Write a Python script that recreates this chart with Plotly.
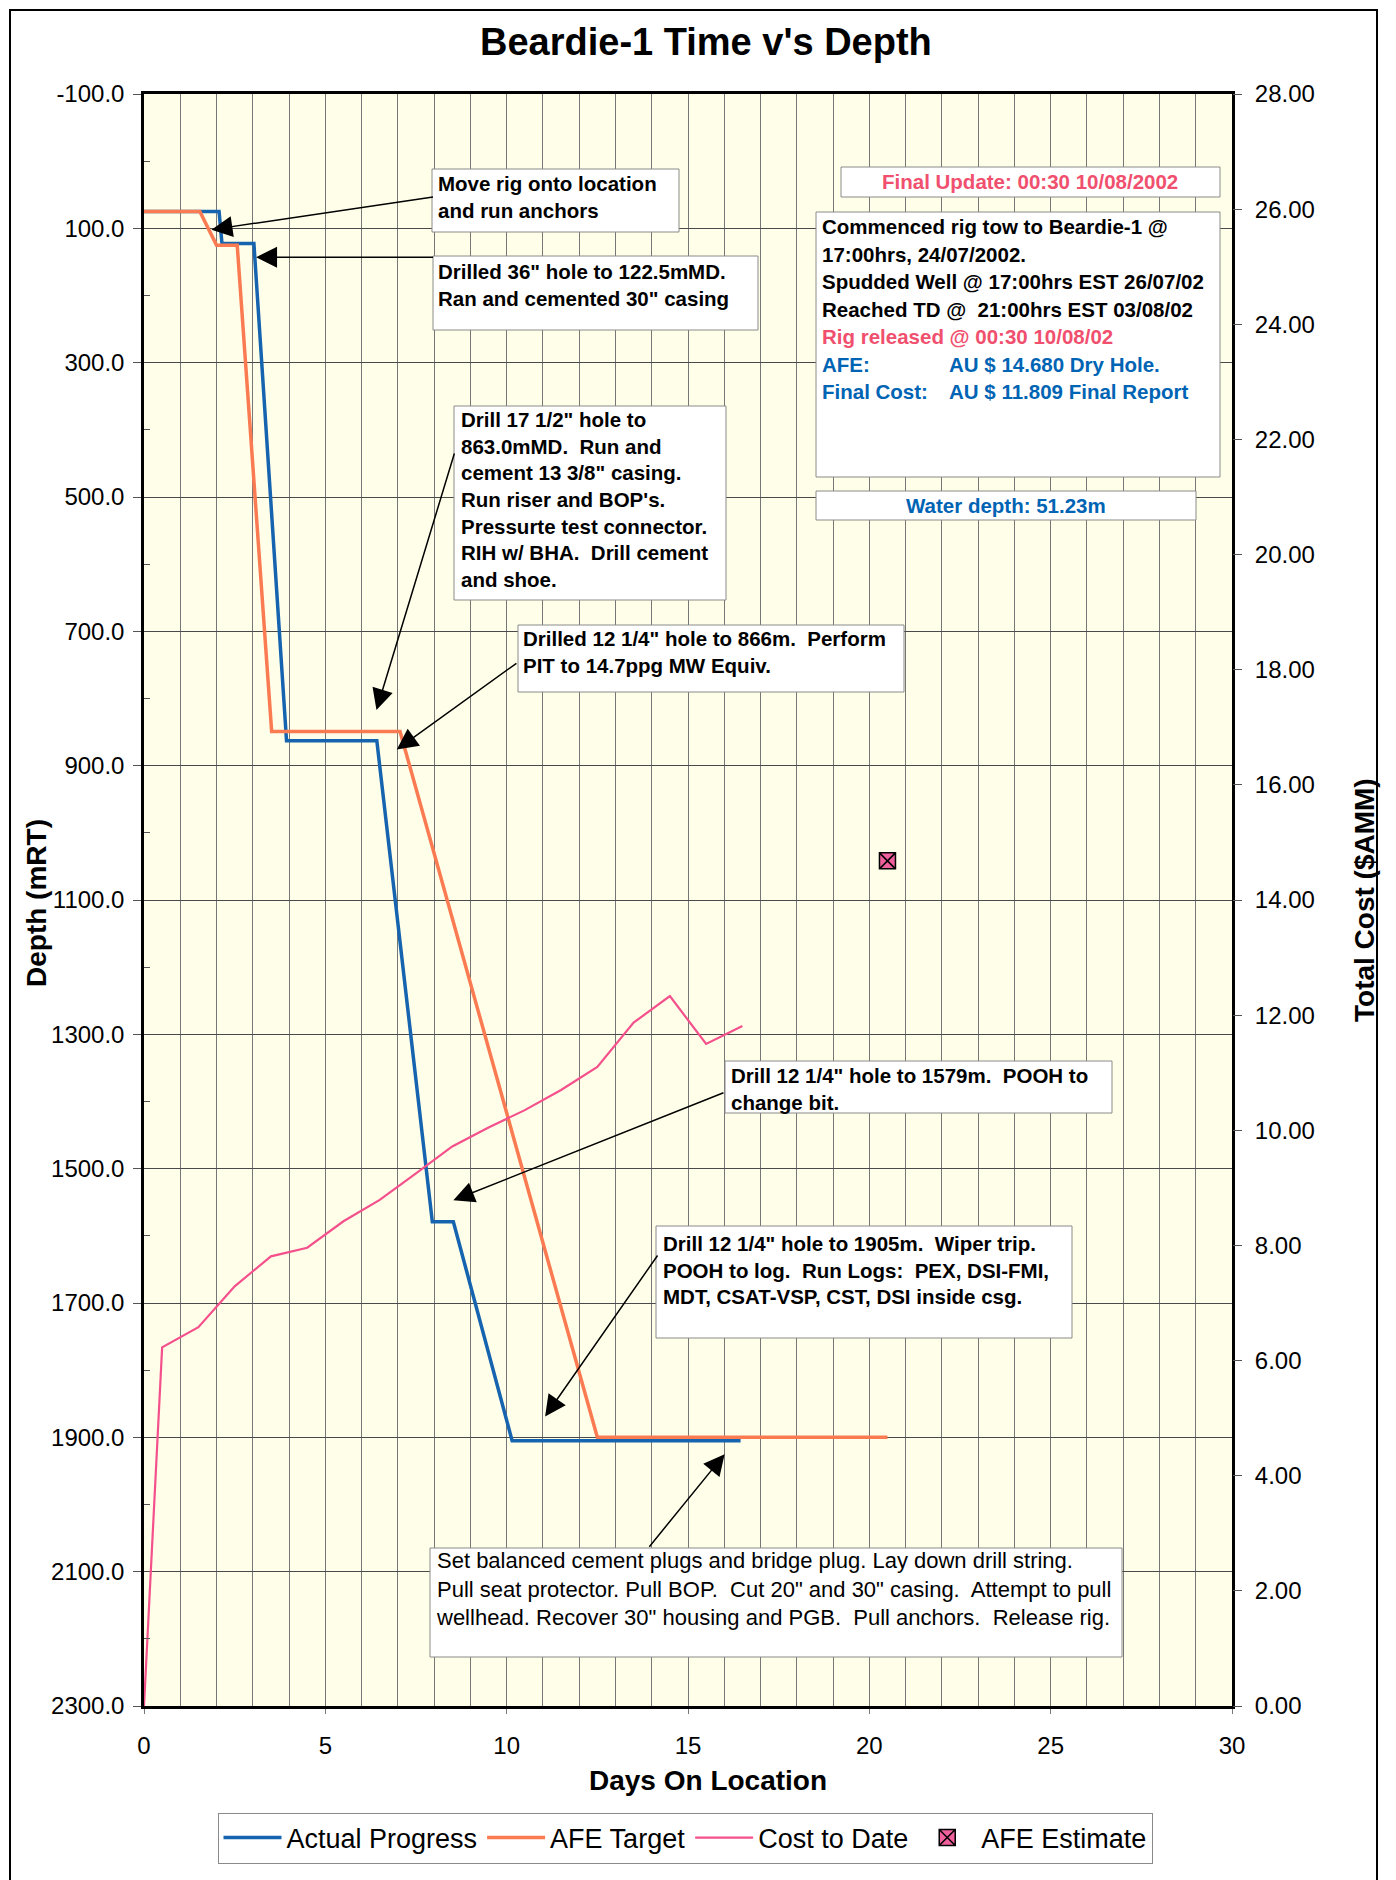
import plotly.graph_objects as go

# ---------------- data ----------------
actual_days = [0, 2.07, 2.15, 3.03, 3.93, 6.42, 7.95, 8.53, 10.15, 16.45]
actual_depth = [75, 75, 122.5, 122.5, 863, 863, 1579, 1579, 1905, 1905]

afe_days = [0, 1.54, 2.0, 2.57, 3.52, 7.06, 12.5, 20.5]
afe_depth = [75, 75, 125, 125, 849, 849, 1900, 1900]

cost_days = [0, 0.5, 1.5, 2.5, 3.5, 4.5, 5.5, 6.5, 7.5, 8.5, 9.5, 10.5, 11.5, 12.5, 13.5, 14.5, 15.5, 16.5]
cost_vals = [0, 6.23, 6.58, 7.29, 7.81, 7.96, 8.42, 8.79, 9.25, 9.72, 10.05, 10.35, 10.70, 11.10, 11.87, 12.33, 11.50, 11.81]

afe_est_day = [20.5]
afe_est_cost = [14.68]

depth_ticks = list(range(-100, 2301, 200))
cost_ticks = list(range(0, 29, 2))

FONT = "Liberation Sans, Arial, sans-serif"
BLUE = "#1664B0"
ORANGE = "#FA7B52"
PINK = "#F4508C"
TXT_PINK = "#F0506E"
TXT_BLUE = "#0064B4"

# page offset from the browser's default body margin
OFF = 8
W, H = 1396 - OFF, 1880 - OFF
# plot area in page pixels
L, R, T, B = 144, 1232, 94, 1706


def px(x):
    return (x - L) / (R - L)


def py(y):
    return (B - y) / (B - T)


fig = go.Figure()
fig.add_trace(go.Scatter(x=actual_days, y=actual_depth, name="Actual Progress", mode="lines",
                         line=dict(color=BLUE, width=3.5), yaxis="y"))
fig.add_trace(go.Scatter(x=afe_days, y=afe_depth, name="AFE Target", mode="lines",
                         line=dict(color=ORANGE, width=3.5), yaxis="y"))
fig.add_trace(go.Scatter(x=cost_days, y=cost_vals, name="Cost to Date", mode="lines",
                         line=dict(color=PINK, width=2.2), yaxis="y2"))
fig.add_trace(go.Scatter(x=afe_est_day, y=afe_est_cost, name="AFE Estimate", mode="markers",
                         marker=dict(symbol="square-x", size=16, color="#F0609C",
                                     line=dict(color="black", width=1.5)), yaxis="y2"))

# ---------------- boxes (shapes) ----------------
boxes = [
    (432, 169, 679, 232),
    (433, 256, 758, 330),
    (454, 406, 726, 600),
    (518, 625, 904, 692),
    (725, 1061, 1112, 1113),
    (656, 1226, 1072, 1338),
    (430, 1548, 1122, 1657),
    (841, 167, 1220, 197),
    (816, 212, 1220, 477),
    (816, 491, 1196, 520),
]
shapes = []
for x0, y0, x1, y1 in boxes:
    shapes.append(dict(type="rect", xref="paper", yref="paper",
                       x0=px(x0), x1=px(x1), y0=py(y1), y1=py(y0),
                       fillcolor="white", line=dict(color="#8a8a8a", width=1), layer="above"))
# page frame
shapes.append(dict(type="rect", xref="paper", yref="paper",
                   x0=px(10), x1=px(1377), y0=py(1890), y1=py(10),
                   line=dict(color="black", width=2), layer="below"))

annotations = []

# ---------------- texts ----------------
bold_texts = [
    (436, 170, "Move rig onto location<br>and run anchors"),
    (436, 258, "Drilled 36\" hole to 122.5mMD.<br>Ran and cemented 30\" casing"),
    (459, 406, "Drill 17 1/2\" hole to<br>863.0mMD.  Run and<br>cement 13 3/8\" casing.<br>"
               "Run riser and BOP's.<br>Pressurte test connector.<br>RIH w/ BHA.  Drill cement<br>and shoe."),
    (521, 625, "Drilled 12 1/4\" hole to 866m.  Perform<br>PIT to 14.7ppg MW Equiv."),
    (729, 1062, "Drill 12 1/4\" hole to 1579m.  POOH to<br>change bit."),
    (661, 1230, "Drill 12 1/4\" hole to 1905m.  Wiper trip.<br>POOH to log.  Run Logs:  PEX, DSI-FMI,<br>"
                "MDT, CSAT-VSP, CST, DSI inside csg."),
]
for x, y, t in bold_texts:
    annotations.append(dict(xref="paper", yref="paper", x=px(x), y=py(y), xanchor="left", yanchor="top",
                            text="<b>" + t + "</b>", showarrow=False, align="left",
                            font=dict(family=FONT, size=20.5, color="black")))

annotations.append(dict(xref="paper", yref="paper", x=px(434), y=py(1546), xanchor="left", yanchor="top",
                        text="Set balanced cement plugs and bridge plug. Lay down drill string.<br>"
                             "Pull seat protector. Pull BOP.  Cut 20\" and 30\" casing.  Attempt to pull<br>"
                             "wellhead. Recover 30\" housing and PGB.  Pull anchors.  Release rig.",
                        showarrow=False, align="left",
                        font=dict(family=FONT, size=22, color="black")))

annotations.append(dict(xref="paper", yref="paper", x=px(1030), y=py(182), xanchor="center", yanchor="middle",
                        text="<b>Final Update: 00:30 10/08/2002</b>", showarrow=False,
                        font=dict(family=FONT, size=20.5, color=TXT_PINK)))
annotations.append(dict(xref="paper", yref="paper", x=px(1006), y=py(505), xanchor="center", yanchor="middle",
                        text="<b>Water depth: 51.23m</b>", showarrow=False,
                        font=dict(family=FONT, size=20.5, color=TXT_BLUE)))

info_lines = [
    ("Commenced rig tow to Beardie-1 @", None, "black"),
    ("17:00hrs, 24/07/2002.", None, "black"),
    ("Spudded Well @ 17:00hrs EST 26/07/02", None, "black"),
    ("Reached TD @  21:00hrs EST 03/08/02", None, "black"),
    ("Rig released @ 00:30 10/08/02", None, TXT_PINK),
    ("AFE:", "AU $ 14.680 Dry Hole.", TXT_BLUE),
    ("Final Cost:", "AU $ 11.809 Final Report", TXT_BLUE),
]
for i, (a, b, c) in enumerate(info_lines):
    yc = 226.7 + 27.5 * i
    annotations.append(dict(xref="paper", yref="paper", x=px(820), y=py(yc), xanchor="left", yanchor="middle",
                            text="<b>" + a + "</b>", showarrow=False,
                            font=dict(family=FONT, size=20.5, color=c)))
    if b:
        annotations.append(dict(xref="paper", yref="paper", x=px(947), y=py(yc), xanchor="left",
                                yanchor="middle", text="<b>" + b + "</b>", showarrow=False,
                                font=dict(family=FONT, size=20.5, color=c)))

# ---------------- arrows (head day/depth, tail day/depth) ----------------
arrows = [
    ((1.86, 102), (8.01, 53)),
    ((3.09, 143), (8.01, 143)),
    ((6.41, 817), (8.57, 433)),
    ((6.97, 876), (10.31, 746)),
    ((8.53, 1547), (16.02, 1386)),
    ((11.06, 1869), (14.19, 1627)),
    ((16.01, 1925), (13.9, 2065)),
]
for (hx, hy), (tx, ty) in arrows:
    annotations.append(dict(xref="x", yref="y", x=hx, y=hy, axref="x", ayref="y", ax=tx, ay=ty,
                            text="", showarrow=True, arrowhead=2, arrowsize=2.8, arrowwidth=1.5,
                            arrowcolor="black", standoff=0, startstandoff=0))

# ---------------- titles ----------------
annotations.append(dict(xref="paper", yref="paper", x=px(706), y=py(42), xanchor="center", yanchor="middle",
                        text="<b>Beardie-1 Time v's Depth</b>", showarrow=False,
                        font=dict(family=FONT, size=38, color="black")))
annotations.append(dict(xref="paper", yref="paper", x=px(708), y=py(1780), xanchor="center", yanchor="middle",
                        text="<b>Days On Location</b>", showarrow=False,
                        font=dict(family=FONT, size=28, color="black")))
annotations.append(dict(xref="paper", yref="paper", x=px(36), y=py(903), xanchor="center", yanchor="middle",
                        text="<b>Depth (mRT)</b>", showarrow=False, textangle=-90,
                        font=dict(family=FONT, size=28, color="black")))
annotations.append(dict(xref="paper", yref="paper", x=px(1364), y=py(900), xanchor="center", yanchor="middle",
                        text="<b>Total Cost ($AMM)</b>", showarrow=False, textangle=-90,
                        font=dict(family=FONT, size=28, color="black")))

fig.update_layout(
    width=W, height=H,
    margin=dict(l=L - OFF, r=W - (R - OFF), t=T - OFF, b=H - (B - OFF), autoexpand=False),
    paper_bgcolor="white",
    plot_bgcolor="#FFFFE9",
    font=dict(family=FONT, size=24, color="black"),
    showlegend=True,
    legend=dict(orientation="h", x=px(685), y=py(1838), xanchor="center", yanchor="middle",
                bgcolor="white", bordercolor="#8a8a8a", borderwidth=1,
                font=dict(family=FONT, size=27, color="black"), itemwidth=58, tracegroupgap=0),
    xaxis=dict(range=[0, 30], tickmode="linear", tick0=0, dtick=5, showgrid=True,
               gridcolor="#777777", gridwidth=1, zeroline=False,
               minor=dict(dtick=1, showgrid=True, gridcolor="#777777", gridwidth=1),
               showline=True, linecolor="black", linewidth=2.5, mirror=True,
               ticks="outside", ticklen=5, tickcolor="#777777",
               ticklabelstandoff=11, tickfont=dict(size=24)),
    yaxis=dict(range=[2300, -100], tickmode="array", tickvals=depth_ticks,
               ticktext=["%.1f" % v for v in depth_ticks],
               showgrid=True, gridcolor="#4a4a4a", gridwidth=1, zeroline=False,
               showline=True, linecolor="black", linewidth=2.5, mirror=True,
               ticks="outside", ticklen=8, tickcolor="#555555",
               minor=dict(tickmode="array", tickvals=list(range(0, 2300, 200)), ticks="inside",
                          ticklen=6, tickcolor="#555555", showgrid=False),
               ticklabelstandoff=4, tickfont=dict(size=24)),
    yaxis2=dict(range=[0, 28], overlaying="y", side="right", tickmode="array", tickvals=cost_ticks,
                ticktext=["%.2f" % v for v in cost_ticks], showgrid=False, zeroline=False,
                showline=False, ticks="outside", ticklen=9, tickcolor="#555555",
                ticklabelstandoff=8, tickfont=dict(size=24)),
    shapes=shapes,
    annotations=annotations,
)

fig.write_html("out.html")
